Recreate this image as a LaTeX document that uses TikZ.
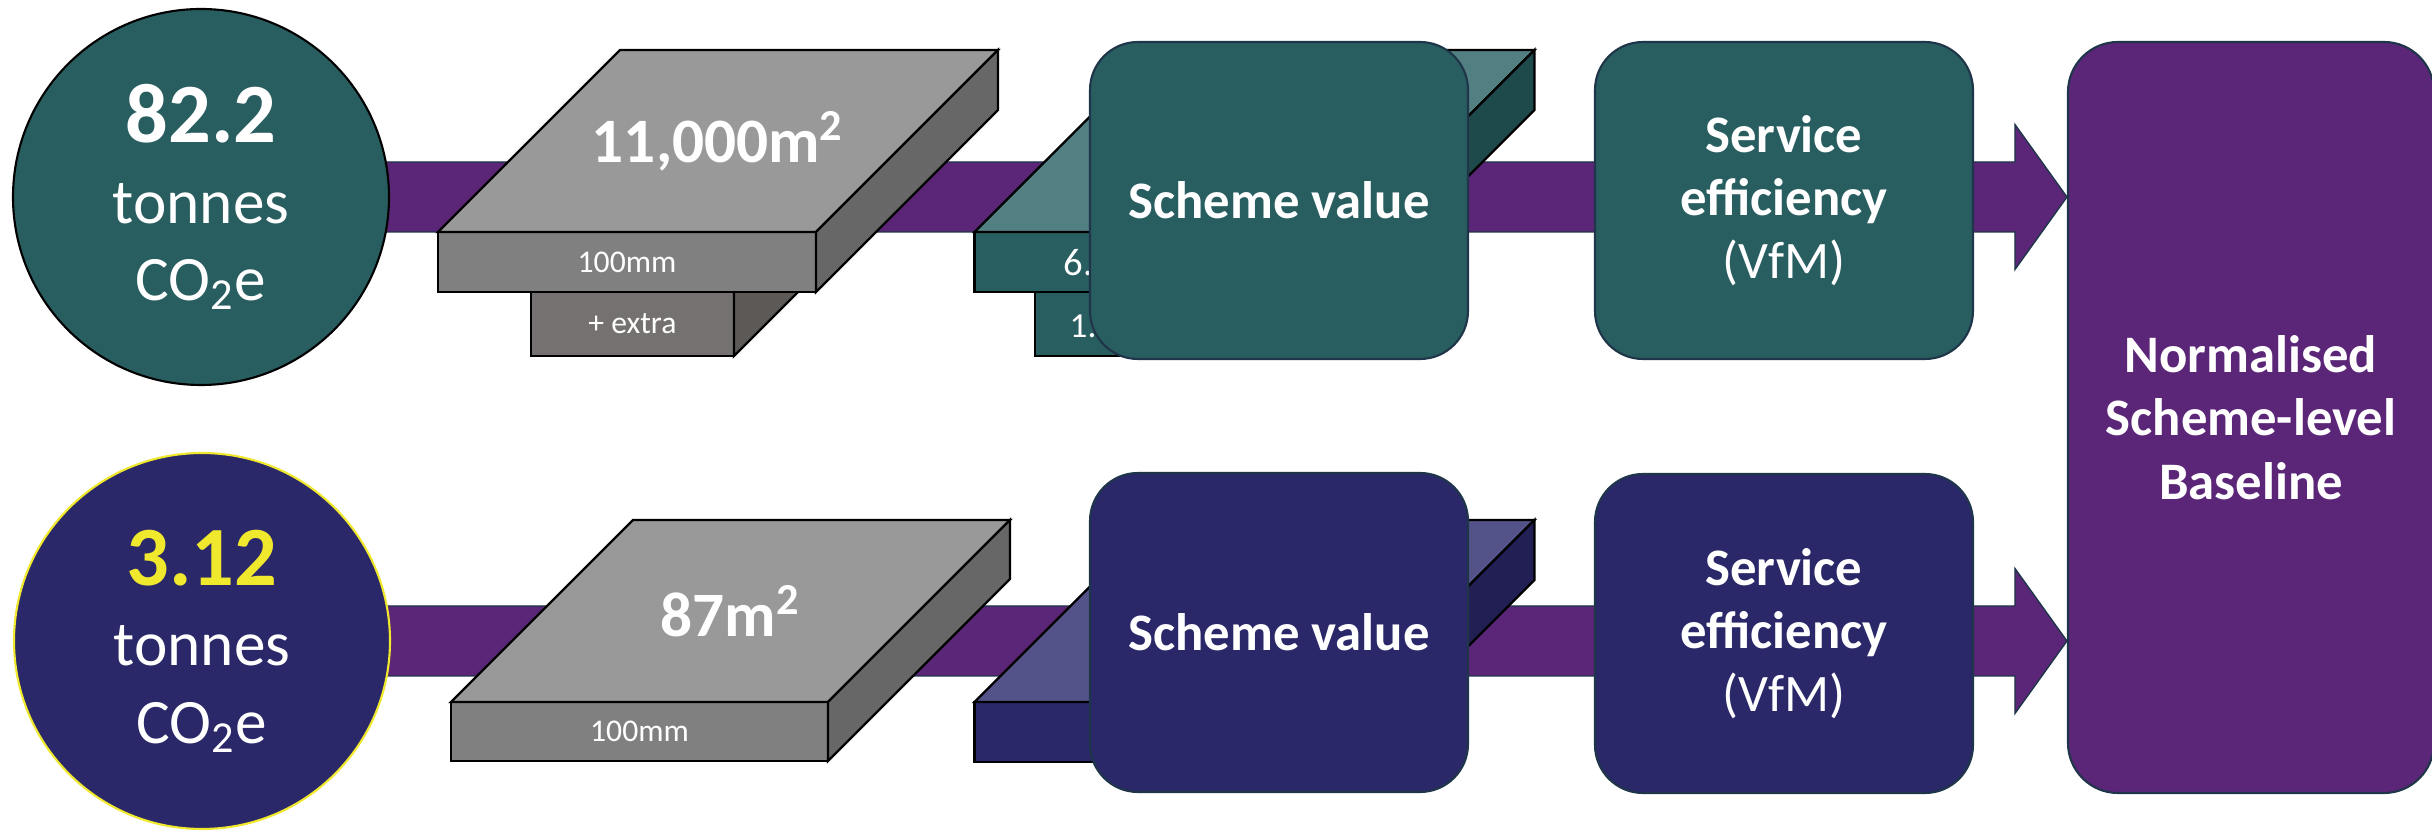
\documentclass[tikz,border=0pt]{standalone}
\usepackage{fontspec}
\setmainfont{Carlito}
\usepackage{tikz}
\usetikzlibrary{positioning,backgrounds,calc}
\definecolor{rowteal}{RGB}{41,94,97}
\definecolor{tealtop}{RGB}{82,127,129}
\definecolor{tealside}{RGB}{31,74,76}
\definecolor{rownavy}{RGB}{42,40,105}
\definecolor{navytop}{RGB}{84,83,137}
\definecolor{navyside}{RGB}{34,31,85}
\definecolor{flowpurple}{RGB}{92,38,120}
\definecolor{boxline}{RGB}{31,53,73}
\definecolor{greytop}{RGB}{153,153,153}
\definecolor{greyfront}{RGB}{128,128,128}
\definecolor{greyside}{RGB}{103,103,103}
\definecolor{extrafront}{RGB}{118,113,113}
\definecolor{extraside}{RGB}{93,89,87}
\definecolor{markyellow}{RGB}{240,232,44}
\newcommand{\slabdepth}{1.82}
\newcommand{\slabfaces}[3]{%
  \draw[face, fill=#2] (#1.north west) -- ++(\slabdepth,\slabdepth)
    -- ([shift={(\slabdepth,\slabdepth)}]#1.north east) -- (#1.north east) -- cycle;
  \draw[face, fill=#3] (#1.north east) -- ++(\slabdepth,\slabdepth)
    -- ([shift={(\slabdepth,\slabdepth)}]#1.south east) -- (#1.south east) -- cycle;}

\begin{document}
\begin{tikzpicture}[
  face/.style={draw=black, line width=0.7pt},
  front/.style={face, minimum width=3.78cm, minimum height=0.6cm, inner sep=0pt, outer sep=0pt,
                text=white, font=\fontsize{9}{10}\selectfont},
  area/.style={text=white, font=\fontsize{18}{20}\selectfont\bfseries},
  cut/.style={text=white, anchor=west, inner sep=0pt},
  disc/.style={circle, minimum size=3.76cm, line width=0.6pt, text=white, align=center,
               font=\fontsize{18}{22}\selectfont},
  box/.style={draw=boxline, line width=0.6pt, rounded corners=4.8mm, text=white, align=center,
              minimum width=3.78cm, minimum height=3.17cm, font=\fontsize{15}{18}\selectfont\bfseries},
  flow/.style={fill=flowpurple, draw=boxline, line width=0.4pt}]

\useasboundingbox (0,0) rectangle (24.32,8.37);

% tonnes per row
\node[disc, fill=rowteal, draw=black] (co2a) at (2.01,6.40)
  {{\fontsize{24}{24}\selectfont\bfseries 82.2}\\[1pt] tonnes\\ CO\textsubscript{2}e};
\node[disc, fill=rownavy, draw=markyellow] (co2b) at (2.02,1.96)
  {{\fontsize{24}{24}\selectfont\bfseries\color{markyellow}3.12}\\[1pt] tonnes\\ CO\textsubscript{2}e};

% shared end box
\node[box, fill=flowpurple, minimum width=3.66cm, minimum height=7.51cm, rounded corners=5mm] (base)
  at (22.51,4.195) {Normalised\\ Scheme-level\\ Baseline};

% purple flows behind the row
\begin{scope}[on background layer]
\foreach \r in {a,b} {
  \coordinate (tip\r) at (base.west |- co2\r);
  \draw[flow] ([yshift=3.5mm]co2\r.center) -- ([shift={(-5.2mm,3.5mm)}]tip\r)
    -- ([shift={(-5.2mm,7.25mm)}]tip\r) -- (tip\r) -- ([shift={(-5.2mm,-7.25mm)}]tip\r)
    -- ([shift={(-5.2mm,-3.5mm)}]tip\r) -- ([yshift=-3.5mm]co2\r.center) -- cycle;
}
\end{scope}

% top row
\node[front, fill=extrafront, minimum width=2.03cm, minimum height=0.64cm] (xa) at (6.325,5.13) {+ extra};
\draw[face, fill=extraside] (xa.south east) -- ++(\slabdepth,\slabdepth) -- ++(0,0.64) -- (xa.north east) -- cycle;
\node[front, fill=greyfront] (ga) at (6.27,5.75) {100mm};
\slabfaces{ga}{greytop}{greyside}
\node[area] (gaarea) at ($(ga.north)+(0.91,0.91)$) {11,000m\textsuperscript{2}};

\node[front, fill=rowteal, minimum width=2.0cm, minimum height=0.64cm] (ta2) at (11.35,5.13) {};
\node[front, fill=rowteal] (ta) at (11.635,5.75) {};
\slabfaces{ta}{tealtop}{tealside}
\node[cut, font=\fontsize{11}{12}\selectfont] (talbl) at (10.63,5.74) {6.};
\node[cut, font=\fontsize{10}{12}\selectfont] (ta2lbl) at (10.69,5.11) {1.};

\node[box, fill=rowteal] (sva) at (12.79,6.365) {Scheme value};
\node[box, fill=rowteal] (sea) at (17.84,6.365) {Service\\ efficiency\\ {\mdseries (VfM)}};

% bottom row
\node[front, fill=greyfront, minimum width=3.77cm, minimum height=0.59cm] (gb) at (6.395,1.055) {100mm};
\slabfaces{gb}{greytop}{greyside}
\node[area] (gbarea) at ($(gb.north)+(0.91,0.91)$) {87m\textsuperscript{2}};

\node[front, fill=rownavy] (nb) at (11.635,1.05) {};
\slabfaces{nb}{navytop}{navyside}

\node[box, fill=rownavy, minimum height=3.19cm] (svb) at (12.79,2.045) {Scheme value};
\node[box, fill=rownavy, minimum height=3.19cm] (seb) at (17.84,2.035) {Service\\ efficiency\\ {\mdseries (VfM)}};
\end{tikzpicture}
\end{document}
